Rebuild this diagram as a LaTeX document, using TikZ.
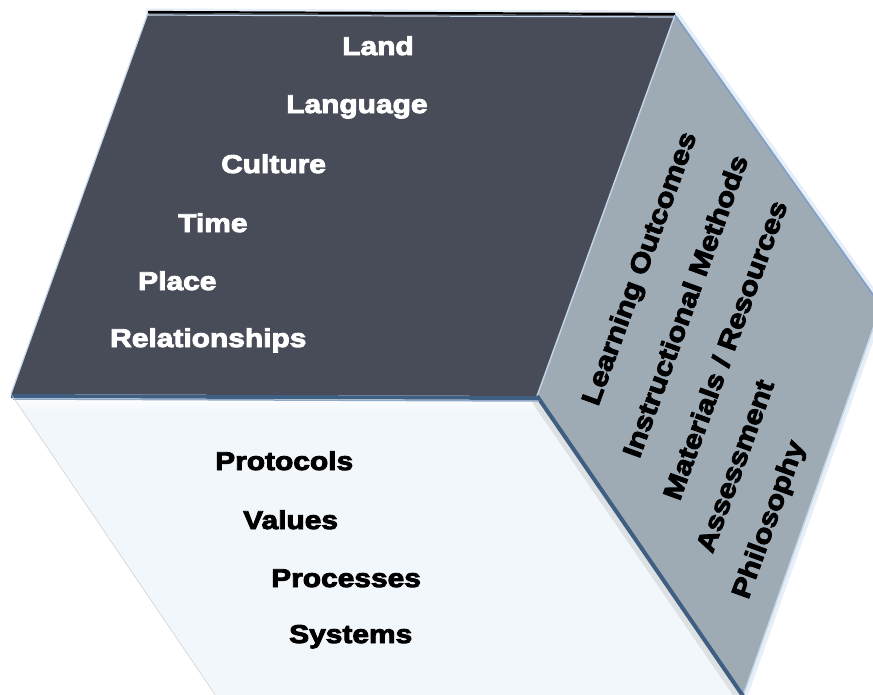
\documentclass[tikz,border=0pt]{standalone}
\usepackage{fontspec}
\usetikzlibrary{calc}
\newfontfamily\cubefont{Liberation Sans}[UprightFont=* Bold, FakeStretch=1.16]
\newcommand\hvy[1]{\special{pdf:literal direct 2 Tr 0.9 w}#1\special{pdf:literal direct 0 Tr}}
\definecolor{topc}{HTML}{474C58}
\definecolor{rightc}{HTML}{9EABB5}
\definecolor{botc}{HTML}{F2F7FC}
\definecolor{edgeblue}{HTML}{3F5F82}
\definecolor{lightedge}{HTML}{C5D6EA}
\definecolor{haloc}{HTML}{D6E3F2}
\definecolor{rimblue}{HTML}{7F9FC6}
\definecolor{paleblue}{HTML}{8FA9C6}
\begin{document}
\begin{tikzpicture}[x=1pt,y=-1pt,
  lbl/.style={font=\cubefont\fontsize{25.8}{30}\selectfont, inner sep=0pt, anchor=base west},
  toplbl/.style={lbl, text=white},
  botlbl/.style={lbl, text=black},
  sidelbl/.style={font=\cubefont\fontsize{26.5}{30}\selectfont, inner sep=0pt, anchor=center, rotate=70, text=black}]
\useasboundingbox (0,0) rectangle (873,694);
% corner coordinates
\coordinate (TL) at (148,13);
\coordinate (TR) at (675,15);
\coordinate (C)  at (537,396);
\coordinate (L)  at (11,394);
\coordinate (R)  at (881,306);
\coordinate (B)  at (743,696);
\coordinate (BL) at (216,696);
% halo
\draw[haloc, line width=9pt, opacity=0.6, line join=round] ($(TL)+(-2,0)$) -- (TL) -- (TR) -- (R) -- (B);
% bottom face
\fill[botc] (L) -- (C) -- (B) -- (BL) -- cycle;
\shade[top color=white, bottom color=botc] (L) -- (C) -- ($(C)+(9,16)$) -- ($(L)+(11,16)$) -- cycle;
% right face
\fill[rightc] (TR) -- (R) -- (B) -- (C) -- cycle;
% top face
\fill[topc] (TL) -- (TR) -- (C) -- (L) -- cycle;
% edges
\draw[black, line width=2.2pt] ($(TL)+(0,-1)$) -- ($(TR)+(0,-1)$);
\draw[lightedge, line width=1.2pt] ($(TL)+(0,2)$) -- ($(TR)+(0,2)$);
\draw[lightedge, line width=1.2pt] (TL) -- (L);
\draw[lightedge, line width=1.4pt] (TR) -- (C);
\draw[rimblue, line width=1.6pt] (TR) -- (R);
\draw[lightedge, line width=1.4pt] (R) -- (B);
\draw[gray!40, line width=6pt, opacity=0.5] ($(C)+(-3,4)$) -- ($(B)+(-3,4)$);
\draw[edgeblue, line width=4pt] (C) -- (B);
\draw[edgeblue, line width=4pt] ($(L)+(0,2)$) -- ($(C)+(0,2)$);
\draw[paleblue, line width=1.5pt] ($(L)+(2,5)$) -- ($(C)+(2,5)$);
\draw[black!20, line width=0.5pt] (L) -- (BL);
% top face labels
\node[toplbl] (land) at (342,55) {\hvy{Land}};
\node[toplbl] (language) at (286,113) {\hvy{Language}};
\node[toplbl] (culture) at (221,173) {\hvy{Culture}};
\node[toplbl] (time) at (178,232) {\hvy{Time}};
\node[toplbl] (place) at (138,290) {\hvy{Place}};
\node[toplbl] (rel) at (110,347) {\hvy{Relationships}};
% bottom face labels
\node[botlbl] (protocols) at (215,470) {\hvy{Protocols}};
\node[botlbl] (values) at (243,529) {\hvy{Values}};
\node[botlbl] (processes) at (271,587) {\hvy{Processes}};
\node[botlbl] (systems) at (289,643) {\hvy{Systems}};
% right face labels
\node[sidelbl] (lo) at (641,269) {\hvy{Learning Outcomes}};
\node[sidelbl] (im) at (685,306) {\hvy{Instructional Methods}};
\node[sidelbl] (mr) at (725,350) {\hvy{Materials / Resources}};
\node[sidelbl] (as) at (735,466) {\hvy{Assessment}};
\node[sidelbl] (ph) at (770,520) {\hvy{Philosophy}};
\end{tikzpicture}
\end{document}
